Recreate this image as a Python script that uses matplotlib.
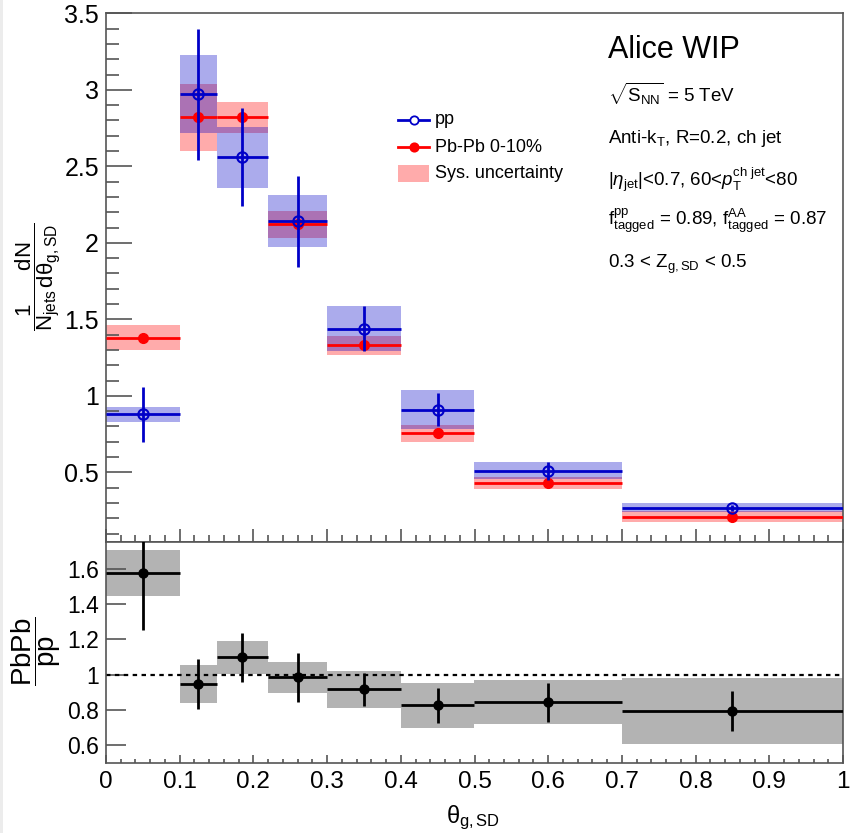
import matplotlib
matplotlib.use("Agg")
import matplotlib.pyplot as plt
import numpy as np
from matplotlib.patches import Rectangle
from matplotlib.lines import Line2D
from matplotlib.ticker import MultipleLocator

plt.rcParams['font.family'] = ['Liberation Sans', 'DejaVu Sans']
plt.rcParams['mathtext.fontset'] = 'custom'
plt.rcParams['mathtext.rm'] = 'Liberation Sans'
plt.rcParams['mathtext.it'] = 'Liberation Sans:italic'
plt.rcParams['mathtext.bf'] = 'Liberation Sans:bold'

# theta_g bin edges
bin_edges = [0.0, 0.10, 0.15, 0.22, 0.30, 0.40, 0.50, 0.70, 1.00]

# pp distribution
pp_val = [0.88, 2.97, 2.56, 2.14, 1.44, 0.91, 0.51, 0.27]
pp_stat = [0.18, 0.43, 0.32, 0.30, 0.15, 0.11, 0.06, 0.02]
pp_sys = [0.05, 0.255, 0.20, 0.17, 0.145, 0.127, 0.055, 0.028]

# Pb-Pb 0-10% distribution
aa_val = [1.38, 2.82, 2.82, 2.12, 1.33, 0.755, 0.43, 0.21]
aa_stat = [0.02, 0.02, 0.02, 0.02, 0.02, 0.02, 0.02, 0.02]
aa_sys = [0.08, 0.22, 0.10, 0.087, 0.063, 0.056, 0.04, 0.035]

# PbPb / pp ratio
ratio_val = [1.575, 0.947, 1.097, 0.985, 0.916, 0.826, 0.843, 0.793]
ratio_stat = [0.32, 0.143, 0.137, 0.14, 0.095, 0.10, 0.11, 0.113]
ratio_sys = [0.13, 0.11, 0.094, 0.088, 0.104, 0.127, 0.125, 0.185]

edges = np.array(bin_edges)
centers = 0.5 * (edges[:-1] + edges[1:])
halfw = 0.5 * np.diff(edges)

W, H = 866, 833
fig = plt.figure(figsize=(W / 100, H / 100), dpi=100)

def fx(px):
    return px / W

def fy(py):
    return 1 - py / H

# thin grey margin on the left edge of the canvas
fig.add_artist(Rectangle((0, 0), fx(3), 1, facecolor='#ececec', edgecolor='none',
                         transform=fig.transFigure, zorder=0))

left, right = 106, 843
top_t, top_b = 13.3, 542
bot_b = 762.7

ax = fig.add_axes([fx(left), fy(top_b), fx(right) - fx(left), fy(top_t) - fy(top_b)])
axr = fig.add_axes([fx(left), fy(bot_b), fx(right) - fx(left), fy(top_b) - fy(bot_b)])

blue = '#0000c8'
red = '#ff0000'

def sys_boxes(a, vals, errs, color, alpha):
    for x0, w, v, e in zip(edges[:-1], np.diff(edges), vals, errs):
        a.add_patch(Rectangle((x0, v - e), w, 2 * e, facecolor=color,
                              edgecolor='none', alpha=alpha, zorder=1))

sys_boxes(ax, aa_val, aa_sys, red, 0.33)
sys_boxes(ax, pp_val, pp_sys, blue, 0.33)

ax.errorbar(centers, aa_val, xerr=halfw, yerr=aa_stat, fmt='o', color=red,
            ms=7, lw=2, capsize=0, zorder=3)
ax.errorbar(centers, pp_val, xerr=halfw, yerr=pp_stat, fmt='o', color=blue,
            mfc='none', mec=blue, mew=1.5, ms=7.5, lw=2, capsize=0, zorder=4)

ax.set_xlim(0, 1)
ax.set_ylim(0.045, 3.5)

# ratio panel
sys_boxes(axr, ratio_val, ratio_sys, '#a0a0a0', 0.8)
axr.axhline(1.0, color='black', ls=(0, (2, 2)), lw=1.6, zorder=2)
axr.errorbar(centers, ratio_val, xerr=halfw, yerr=ratio_stat, fmt='o',
             color='black', ms=6.5, lw=2, capsize=0, zorder=3)
axr.set_xlim(0, 1)
axr.set_ylim(0.5, 1.752)

frame_col = '#555555'
for a in (ax, axr):
    for s in a.spines.values():
        s.set_color(frame_col)
        s.set_linewidth(1.2)

ax.yaxis.set_major_locator(MultipleLocator(0.5))
ax.yaxis.set_minor_locator(MultipleLocator(0.1))
ax.xaxis.set_major_locator(MultipleLocator(0.1))
ax.xaxis.set_minor_locator(MultipleLocator(0.02))
ax.tick_params(axis='y', which='major', direction='in', length=19, width=1.2,
               color=frame_col, labelsize=18, pad=5, right=False)
ax.tick_params(axis='y', which='minor', direction='in', length=9.5, width=1.2,
               color=frame_col, right=False)
ax.tick_params(axis='x', which='major', direction='in', length=9.5, width=1.2,
               color=frame_col, labelbottom=False, top=False)
ax.tick_params(axis='x', which='minor', direction='in', length=5, width=1.2,
               color=frame_col, top=False)
ax.yaxis.set_major_formatter(plt.FuncFormatter(lambda v, p: f"{v:g}"))

axr.yaxis.set_major_locator(MultipleLocator(0.2))
axr.xaxis.set_major_locator(MultipleLocator(0.1))
axr.xaxis.set_minor_locator(MultipleLocator(0.02))
axr.tick_params(axis='y', which='major', direction='in', length=14.5, width=1.2,
                color=frame_col, labelsize=16.5, pad=5, right=False)
axr.tick_params(axis='x', which='major', direction='in', length=6, width=1.2,
                color=frame_col, labelsize=17.5, pad=6, top=False)
axr.tick_params(axis='x', which='minor', direction='in', length=3, width=1.2,
                color=frame_col, top=False)
axr.yaxis.set_major_formatter(plt.FuncFormatter(lambda v, p: f"{v:g}"))
axr.xaxis.set_major_formatter(plt.FuncFormatter(lambda v, p: f"{v:g}"))

# axis titles
fig.text(fx(38), fy(277), r'$\dfrac{\rm 1}{\rm N_{jets}}\dfrac{\rm dN}{\rm d\theta_{g,SD}}$',
         rotation=90, ha='center', va='center', fontsize=16)
fig.text(fx(36), fy(651), r'$\dfrac{\rm PbPb}{\rm pp}$',
         rotation=90, ha='center', va='center', fontsize=20)
fig.text(fx(446), fy(823), r'$\rm \theta_{g,SD}$', ha='left', va='baseline', fontsize=17)

# annotations
tx = fx(608)
fig.text(tx, fy(58), 'Alice WIP', fontsize=22, va='baseline')
fs = 13.5
fig.text(tx, fy(102), r'$\sqrt{\rm S_{NN}}$ = 5 TeV', fontsize=fs, va='baseline')
fig.text(tx, fy(143), r'Anti-k$_{\rm T}$, R=0.2, ch jet', fontsize=fs, va='baseline')
fig.text(tx, fy(186), r'|$\eta_{\rm jet}$|<0.7, 60<$p_{\rm T}^{\rm ch\ jet}$<80',
         fontsize=fs, va='baseline')
fig.text(tx, fy(225), r'f$^{\rm pp}_{\rm tagged}$ = 0.89, f$^{\rm AA}_{\rm tagged}$ = 0.87',
         fontsize=fs, va='baseline')
fig.text(tx, fy(268), r'0.3 < Z$_{\rm g,SD}$ < 0.5', fontsize=fs, va='baseline')

# legend
lx0, lx1 = fx(398), fx(429)
lxm = 0.5 * (lx0 + lx1)
for yy, col, filled in ((120, blue, False), (147, red, True)):
    fig.add_artist(Line2D([lx0, lx1], [fy(yy), fy(yy)], color=col, lw=2))
    fig.add_artist(Line2D([lxm], [fy(yy)], marker='o', ms=6, color=col,
                          mfc=col if filled else 'white', mec=col, mew=1.3))
fig.add_artist(Rectangle((lx0, fy(182)), lx1 - lx0, fy(165) - fy(182),
                         facecolor=red, alpha=0.33, edgecolor='none',
                         transform=fig.transFigure))
lfs = 13
fig.text(fx(435), fy(120), 'pp', fontsize=lfs, va='center')
fig.text(fx(435), fy(147), 'Pb-Pb 0-10%', fontsize=lfs, va='center')
fig.text(fx(435), fy(173), 'Sys. uncertainty', fontsize=lfs, va='center')

fig.savefig('out.png', dpi=100)
